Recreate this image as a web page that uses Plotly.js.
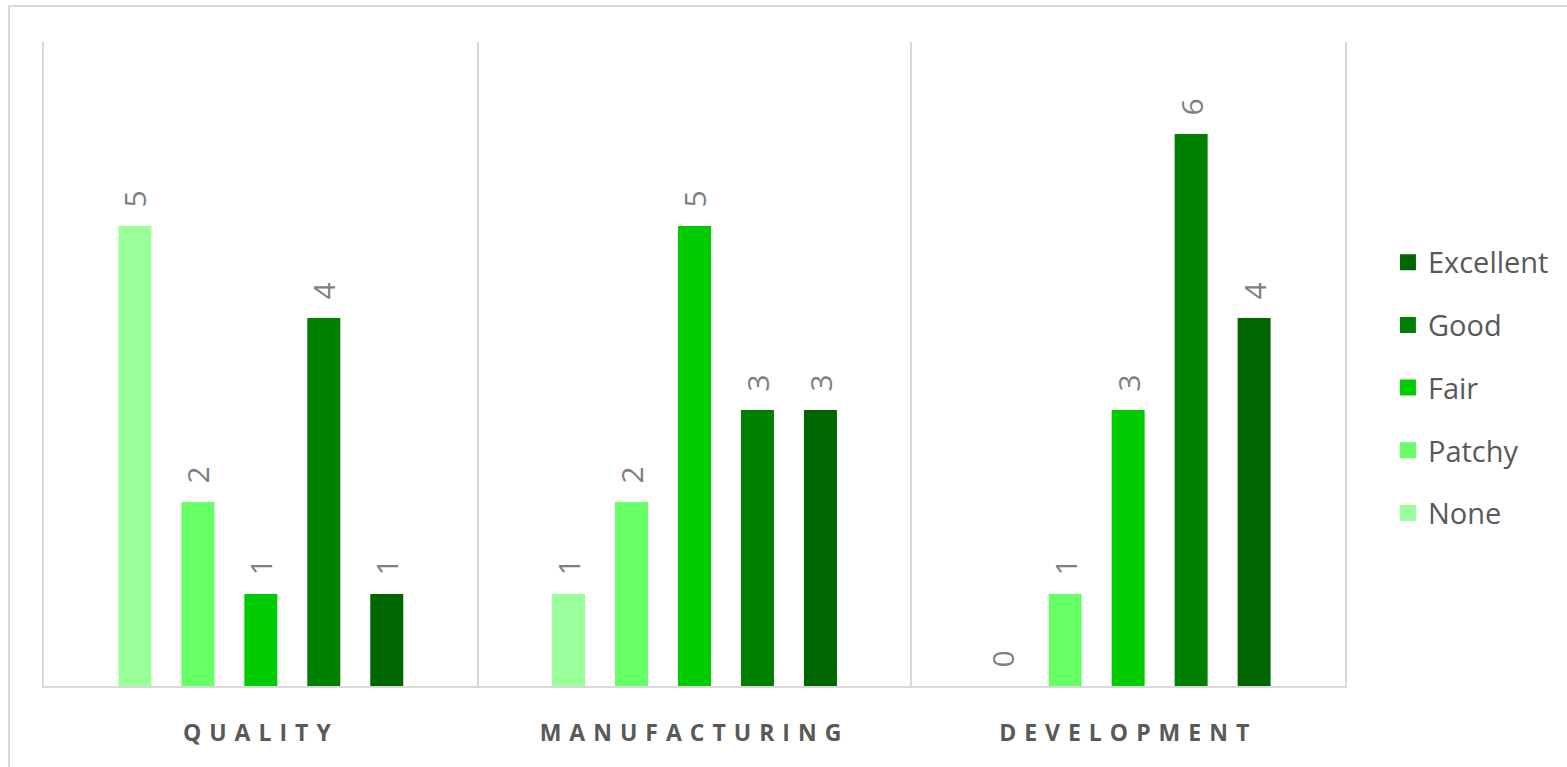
<!DOCTYPE html>
<html><head><meta charset="utf-8">
<script src="https://cdn.plot.ly/plotly-3.0.1.min.js"></script>
<style>
body{margin:0;padding:0;background:#fff;}
#wrap{position:relative;width:1567px;height:767px;}
#chart{position:absolute;left:0;top:0;width:1567px;height:767px;}
#frame{position:absolute;left:8px;top:5px;width:1600px;height:800px;border:2px solid #d9d9d9;pointer-events:none;}
.xtick text{letter-spacing:8px;}
</style>
</head><body>
<div id="wrap"><div id="chart"></div><div id="frame"></div></div>
<script>
const categories = ["QUALITY", "MANUFACTURING", "DEVELOPMENT"];
const seriesNames = ["None", "Patchy", "Fair", "Good", "Excellent"];
const seriesColors = ["#99ff99", "#66ff66", "#00cc00", "#008000", "#006600"];
const noneVals = [5, 1, 0];
const patchyVals = [2, 2, 1];
const fairVals = [1, 5, 3];
const goodVals = [4, 3, 6];
const excellentVals = [1, 3, 4];
const allVals = [noneVals, patchyVals, fairVals, goodVals, excellentVals];

const font = "Open Sans, Liberation Sans, sans-serif";

const barTraces = seriesNames.map((n, i) => ({
  type: "bar",
  name: n,
  x: categories,
  y: allVals[i],
  text: allVals[i].map(v => "\u00a0\u00a0" + v),
  textposition: "outside",
  textangle: -90,
  constraintext: "none",
  cliponaxis: false,
  textfont: {family: font, size: 30, color: "#7f7f7f"},
  marker: {color: seriesColors[i]},
  showlegend: false
}));

// legend entries (larger square symbols)
const legendTraces = seriesNames.map((n, i) => ({
  type: "scatter",
  mode: "markers",
  name: n,
  x: [categories[0]],
  y: [null],
  marker: {symbol: "square", size: 16, color: seriesColors[i]},
  legendgroup: n,
  legendrank: seriesNames.length - i,
  hoverinfo: "skip"
}));

const layout = {
  width: 1567, height: 767,
  margin: {l: 44, r: 222, t: 42, b: 81},
  paper_bgcolor: "rgba(0,0,0,0)",
  plot_bgcolor: "#fff",
  barmode: "group",
  bargap: 0.274,
  bargroupgap: 0.476,
  showlegend: true,
  legend: {
    x: 1.033, y: 0.463, xanchor: "left", yanchor: "middle",
    traceorder: "grouped",
    tracegroupgap: 22,
    font: {family: font, size: 29, color: "#595959"},
    itemwidth: 30
  },
  xaxis: {
    type: "category",
    tickson: "boundaries",
    showgrid: true,
    gridcolor: "#d9d9d9",
    gridwidth: 2,
    showline: true,
    linecolor: "#d9d9d9",
    linewidth: 2,
    ticks: "",
    ticklabelstandoff: 25,
    tickfont: {family: font, size: 23, color: "#595959", weight: "bold"}
  },
  yaxis: {
    range: [0, 7],
    showgrid: false,
    showticklabels: false,
    zeroline: false,
    showline: true,
    mirror: true,
    linecolor: "#d9d9d9",
    linewidth: 2,
    ticks: ""
  }
};
Plotly.newPlot("chart", barTraces.concat(legendTraces), layout, {displayModeBar: false, staticPlot: true});
</script>
</body></html>
